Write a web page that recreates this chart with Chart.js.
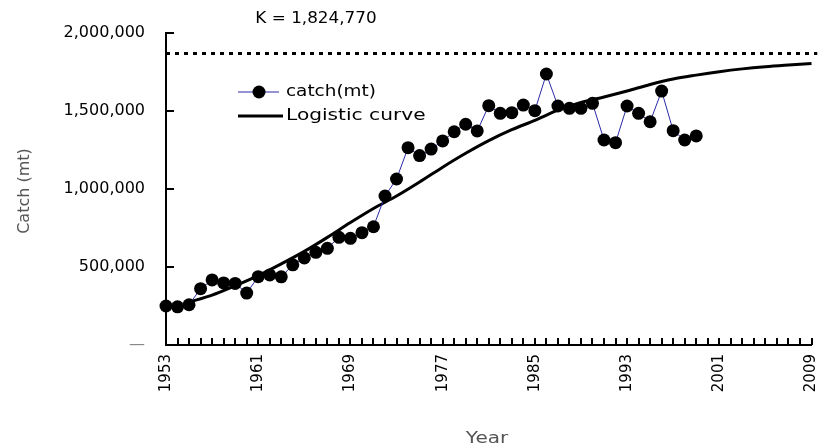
<!DOCTYPE html>
<html>
<head>
<meta charset="utf-8">
<script src="https://cdn.jsdelivr.net/npm/chart.js@4"></script>
<style>
  html, body { margin: 0; padding: 0; background: #fff; }
  #wrap { width: 818px; height: 448px; }
</style>
</head>
<body>
<div id="wrap"><canvas id="c" width="818" height="448"></canvas></div>
<script>
// ---- data ----
const catchYears = [1953,1954,1955,1956,1957,1958,1959,1960,1961,1962,1963,1964,1965,1966,1967,1968,1969,1970,1971,1972,1973,1974,1975,1976,1977,1978,1979,1980,1981,1982,1983,1984,1985,1986,1987,1988,1989,1990,1991,1992,1993,1994,1995,1996,1997,1998,1999];
const catchValues = [250000,245000,258000,361000,417000,398000,395000,333000,438000,449000,437000,514000,558000,594000,620000,690000,684000,720000,758000,955000,1064000,1265000,1214000,1256000,1308000,1367000,1415000,1372000,1534000,1485000,1489000,1538000,1502000,1737000,1532000,1517000,1517000,1549000,1314000,1297000,1532000,1485000,1431000,1628000,1374000,1314000,1340000];

const curveYears = [1955,1957,1959,1961,1963,1965,1967,1969,1971,1973,1975,1977,1979,1981,1983,1985,1987,1989,1991,1993,1995,1997,1999,2001,2003,2005,2007,2009];
const curveValues = [275000,320000,380000,445000,520000,600000,690000,785000,875000,955000,1045000,1140000,1229000,1310000,1380000,1440000,1505000,1555000,1590000,1628000,1670000,1705000,1730000,1752000,1770000,1784000,1795000,1805000];

const kLineYears = [1953, 2009.5];
const kLineValue = 1868000;
const kLabel = 'K = 1,824,770';

const xTickYears = [1953,1961,1969,1977,1985,1993,2001,2009];
const yTickValues = [0,500000,1000000,1500000,2000000];

const seriesNames = ['catch(mt)', 'Logistic curve'];
const yTitle = 'Catch (mt)';
const xTitle = 'Year';

// ---- helpers ----
function stretchText(ctx, text, x, y, font, sx, align, color, rot) {
  ctx.save();
  ctx.font = font;
  ctx.fillStyle = color;
  ctx.textBaseline = 'middle';
  ctx.textAlign = align;
  ctx.translate(x, y);
  if (rot) ctx.rotate(rot);
  ctx.scale(sx, 1);
  ctx.fillText(text, 0, 0);
  ctx.restore();
}

const decorPlugin = {
  id: 'decor',
  afterDraw(chart) {
    const ctx = chart.ctx;
    const xs = chart.scales.x, ys = chart.scales.y;
    const bottom = ys.getPixelForValue(0);
    const left = xs.getPixelForValue(xTickYears[0]);
    ctx.save();
    ctx.fillStyle = '#000000';
    // inner tick marks on x (every year)
    for (let yr = xTickYears[0] + 1; yr <= xTickYears[xTickYears.length - 1]; yr++) {
      const px = Math.round(xs.getPixelForValue(yr));
      ctx.fillRect(px - 1, bottom - 7, 2, 7);
    }
    // inner tick marks on y
    yTickValues.forEach(v => {
      if (v === 0) return;
      const py = Math.round(ys.getPixelForValue(v));
      ctx.fillRect(left, py - 1, 8, 2);
    });
    ctx.restore();

    // K label
    stretchText(ctx, kLabel, 316, 19, '15px "DejaVu Sans"', 1.12, 'center', '#000');
    // axis titles
    stretchText(ctx, yTitle, 25, 191, '16px "DejaVu Sans"', 1.0, 'center', '#555', -Math.PI / 2);
    stretchText(ctx, xTitle, 487, 439, '16px "DejaVu Sans"', 1.25, 'center', '#555');

    // legend
    ctx.save();
    ctx.fillStyle = '#2a2aa8';
    ctx.fillRect(238, 91.5, 41, 1);
    ctx.fillStyle = '#000';
    ctx.beginPath();
    ctx.arc(259, 92, 6.5, 0, Math.PI * 2);
    ctx.fill();
    ctx.fillRect(238, 114.5, 45, 3);
    ctx.restore();
    stretchText(ctx, seriesNames[0], 286, 92, '16px "DejaVu Sans"', 1.15, 'left', '#000');
    stretchText(ctx, seriesNames[1], 286, 116, '16px "DejaVu Sans"', 1.26, 'left', '#000');
  }
};

new Chart(document.getElementById('c'), {
  type: 'line',
  data: {
    datasets: [
      {
        label: 'K',
        data: kLineYears.map(x => ({ x, y: kLineValue })),
        borderColor: '#000',
        borderWidth: 3,
        borderDash: [4, 5],
        pointRadius: 0,
        clip: false,
        order: 3
      },
      {
        label: seriesNames[1],
        data: curveYears.map((x, i) => ({ x, y: curveValues[i] })),
        borderColor: '#000',
        borderWidth: 3,
        pointRadius: 0,
        tension: 0.4,
        cubicInterpolationMode: 'monotone',
        clip: false,
        order: 2
      },
      {
        label: seriesNames[0],
        data: catchYears.map((x, i) => ({ x, y: catchValues[i] })),
        borderColor: '#2a2aa8',
        borderWidth: 1,
        pointRadius: 6.5,
        pointBackgroundColor: '#000',
        pointBorderColor: '#000',
        pointBorderWidth: 0,
        tension: 0,
        clip: false,
        order: 1
      }
    ]
  },
  options: {
    responsive: false,
    animation: false,
    events: [],
    layout: { padding: { left: 0, right: 3, top: 33, bottom: 0 } },
    plugins: { legend: { display: false }, tooltip: { enabled: false }, title: { display: false } },
    scales: {
      x: {
        type: 'linear',
        min: xTickYears[0],
        max: xTickYears[xTickYears.length - 1],
        grid: { display: false, drawTicks: false },
        border: { display: true, color: '#000', width: 2 },
        afterBuildTicks: s => { s.ticks = xTickYears.map(v => ({ value: v })); },
        afterFit: s => { s.height = 103; s.paddingLeft = 0; s.paddingRight = 0; },
        ticks: {
          autoSkip: false,
          minRotation: 90,
          maxRotation: 90,
          padding: 9,
          color: '#000',
          font: { family: 'DejaVu Sans', size: 15 },
          callback: v => String(v)
        }
      },
      y: {
        type: 'linear',
        min: 0,
        max: 2000000,
        grid: { display: false, drawTicks: false },
        border: { display: true, color: '#000', width: 2 },
        afterBuildTicks: s => { s.ticks = yTickValues.map(v => ({ value: v })); },
        afterFit: s => { s.width = 166; s.paddingTop = 0; s.paddingBottom = 0; },
        ticks: {
          padding: 21,
          color: c => (c.tick && c.tick.value === 0 ? '#888' : '#000'),
          font: { family: 'DejaVu Sans', size: 16 },
          callback: v => (v === 0 ? '\u2014' : Number(v).toLocaleString('en-US'))
        }
      }
    }
  },
  plugins: [decorPlugin]
});
</script>
</body>
</html>
